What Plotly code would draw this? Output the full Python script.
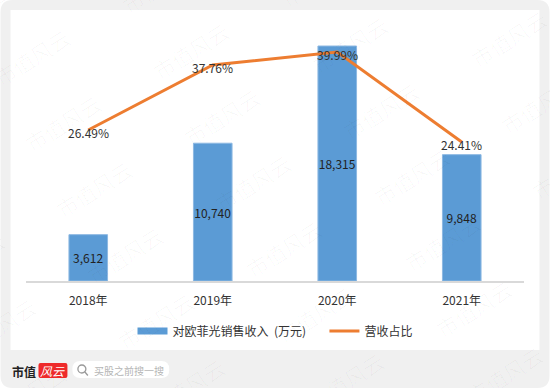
import plotly.graph_objects as go

years = ["2018年", "2019年", "2020年", "2021年"]
sales = [3612, 10740, 18315, 9848]
share = [26.49, 37.76, 39.99, 24.41]
share_labels = ["26.49%", "37.76%", "39.99%", "24.41%"]
bar_name = "对欧菲光销售收入\u00a0\u00a0(万元)\u00a0\u00a0\u00a0\u00a0\u00a0"
line_name = "营收占比"
watermark = "市值风云"

W, H = 550, 388
L, R, T, B = 25.5, 524.5, 20, 281
FONT = "Noto Sans CJK SC"


def px(x):
    return (x - L) / (R - L)


def py(y):
    return 1 - (y - T) / (B - T)


def rect(x0, y0, x1, y1, color, r=0):
    X0, X1, Y0, Y1 = px(x0), px(x1), py(y0), py(y1)
    rx, ry = r / (R - L), r / (B - T)
    if r:
        path = (f"M{X0+rx},{Y0} L{X1-rx},{Y0} Q{X1},{Y0} {X1},{Y0-ry} L{X1},{Y1+ry} Q{X1},{Y1} {X1-rx},{Y1} "
                f"L{X0+rx},{Y1} Q{X0},{Y1} {X0},{Y1+ry} L{X0},{Y0-ry} Q{X0},{Y0} {X0+rx},{Y0} Z")
        return dict(type="path", path=path, xref="paper", yref="paper", fillcolor=color, line_width=0, layer="below")
    return dict(type="rect", x0=X0, x1=X1, y0=Y0, y1=Y1, xref="paper", yref="paper",
                fillcolor=color, line_width=0, layer="below")


fig = go.Figure()
fig.add_trace(go.Bar(x=years, y=sales, marker=dict(color="#5b9bd5", line=dict(color="#8db8e2", width=1)),
                     width=0.31, texttemplate="%{y:,}", textposition="inside", insidetextanchor="middle",
                     constraintext="none", textangle=0,
                     textfont=dict(family=FONT, size=12, color="#222"), showlegend=False, cliponaxis=False))
fig.add_trace(go.Scatter(x=[None], y=[None], mode="lines", name=bar_name,
                         line=dict(color="#5b9bd5", width=7)))
fig.add_trace(go.Scatter(x=years, y=share, yaxis="y2", mode="lines", name=line_name,
                         line=dict(color="#ed7d31", width=3), cliponaxis=False))

shapes = [
    rect(0, 0, 550, 388, "#f0f0f0", 12),
    rect(10, 10, 540, 350, "#ffffff"),
    rect(38, 363, 67, 378, "#ee2a2a", 2),
    rect(72, 361, 169, 378, "#ffffff", 8),
    dict(type="circle", xref="paper", yref="paper", x0=px(77.5), x1=px(85.5), y0=py(365), y1=py(373),
         line=dict(color="#999999", width=1.3), layer="below"),
    dict(type="line", xref="paper", yref="paper", x0=px(84.5), x1=px(87.5), y0=py(372), y1=py(375.5),
         line=dict(color="#999999", width=1.3), layer="below"),
]

annotations = [
    dict(text=lab, x=yr, y=v, xref="x", yref="y2", yshift=-2.5, showarrow=False,
         xanchor="center", yanchor="middle", font=dict(family=FONT, size=12, color="#333"))
    for yr, v, lab in zip(years, share, share_labels)
]
annotations += [
    dict(text="<b>市值</b>", x=px(23), y=py(371), xref="paper", yref="paper", showarrow=False,
         xanchor="center", yanchor="middle", font=dict(family=FONT, size=12, color="#222")),
    dict(text="<i>风云</i>", x=px(52.5), y=py(370.5), xref="paper", yref="paper", showarrow=False,
         xanchor="center", yanchor="middle", font=dict(family=FONT, size=12, color="#ffffff")),
    dict(text="买股之前搜一搜", x=px(92), y=py(370), xref="paper", yref="paper", xanchor="left", yanchor="middle",
         showarrow=False, font=dict(family=FONT, size=10, color="#b5b5b5")),
]

# faint repeating watermark, on top of everything
for row in range(-1, 7):
    for col in range(-1, 5):
        cx = 32 + row * 31 + col * 159
        cy = 57 + row * 66 - col * 6
        if -50 < cx < 600 and -40 < cy < 430:
            annotations.append(dict(text=watermark, x=px(cx), y=py(cy), xref="paper", yref="paper",
                                    showarrow=False, textangle=-32, xanchor="center", yanchor="middle",
                                    font=dict(family=FONT, size=21, color="rgba(0,0,0,0.028)")))

fig.update_layout(
    width=W, height=H, autosize=False,
    margin=dict(l=L, r=W - R, t=T, b=H - B, pad=0),
    paper_bgcolor="#ffffff", plot_bgcolor="rgba(0,0,0,0)",
    font=dict(family=FONT, size=12, color="#333"),
    xaxis=dict(type="category", showgrid=False, showline=True, linecolor="#d9d9d9", linewidth=2,
               ticks="", ticklabelstandoff=8, tickfont=dict(size=12, color="#333"), fixedrange=True),
    yaxis=dict(range=[0, 20343], visible=False, showgrid=False, fixedrange=True),
    yaxis2=dict(range=[0.32, 45.55], overlaying="y", side="right", visible=False, showgrid=False, fixedrange=True),
    legend=dict(orientation="h", x=0.5, xanchor="center", y=py(331), yanchor="middle",
                itemwidth=30, font=dict(size=12, color="#333"), bgcolor="rgba(0,0,0,0)"),
    shapes=shapes, annotations=annotations, showlegend=True,
)

fig.write_html("out.html", config={"displayModeBar": False},
               post_script="document.body.style.margin='0';document.body.style.overflow='hidden';")
